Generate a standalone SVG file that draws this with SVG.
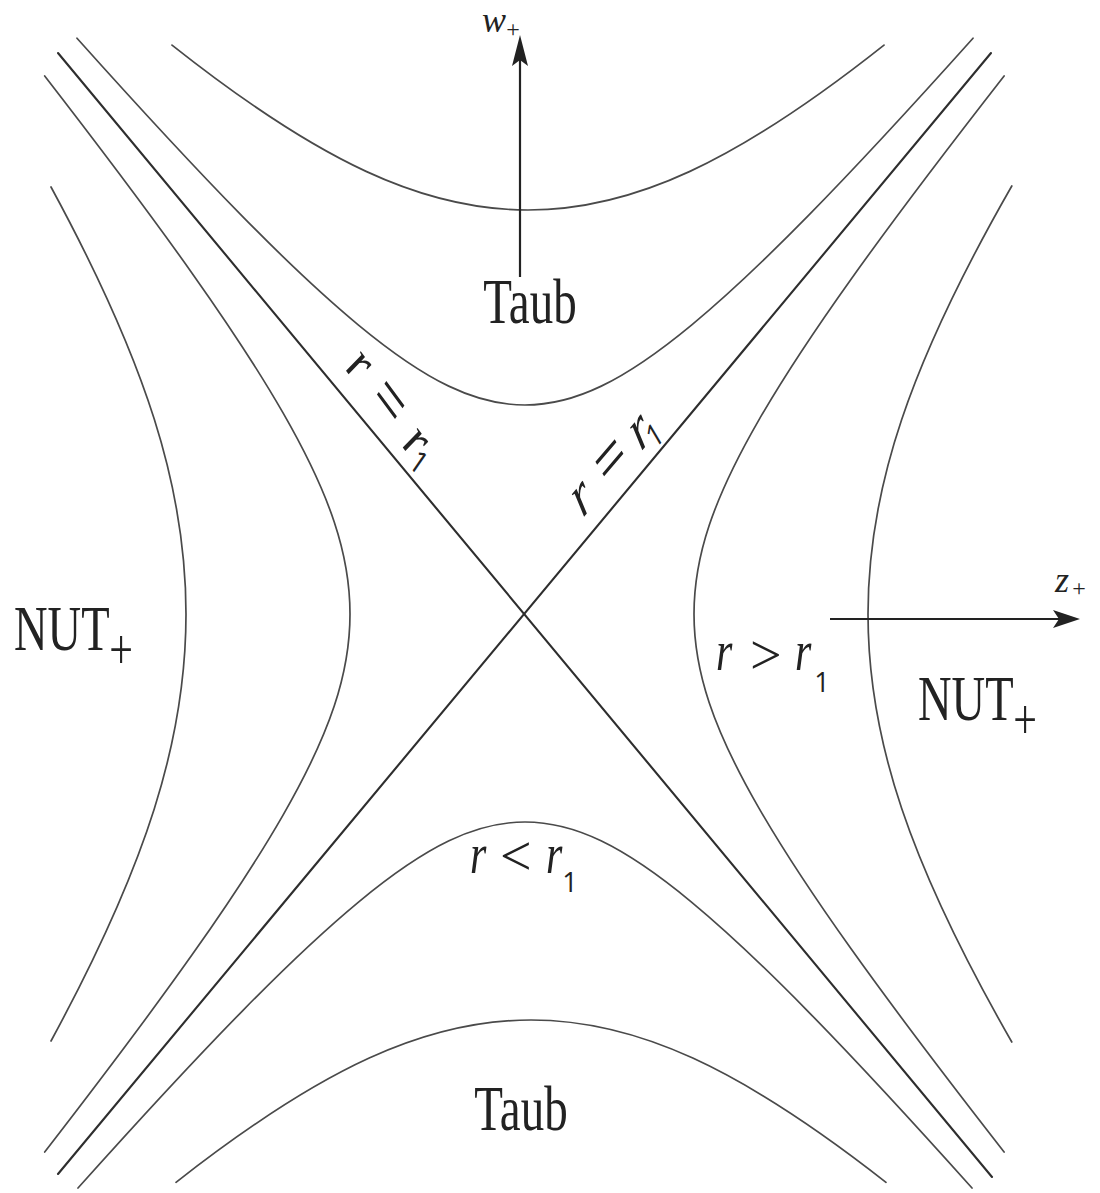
<svg xmlns="http://www.w3.org/2000/svg" width="1100" height="1193" viewBox="0 0 1100 1193">
<style>
.hyp{fill:none;stroke:#4a4a4a;stroke-width:1.7;stroke-linecap:round}
.asy{fill:none;stroke:#2e2e2e;stroke-width:2.1;stroke-linecap:round}
.shaft{fill:none;stroke:#222;stroke-width:2.2}
.head{fill:#222;stroke:none}
.lbl{font-family:"Liberation Serif","Times New Roman",serif;fill:#222}
.it{font-style:italic}
.sans{font-family:"Open Sans","Noto Sans",sans-serif;fill:#222}
</style>
<rect width="1100" height="1193" fill="#fff"/>
<g id="curves">
<path id="taub-outer" class="hyp" d="M172,45.1 C319.6,162 423.2,210 528,210 C632.8,210 736.4,162 884,45.1"/>
<path id="taub-inner" class="hyp" d="M77,38.2 C208.7,185.2 292.1,270.1 358.2,324.8 C426.6,381.4 475.6,405 525,405 C574.4,405 623.4,381.4 691.8,324.8 C757.9,270.1 841.3,185.2 973,38.2"/>
<path id="bottom-inner" class="hyp" d="M78,1188 C209.7,1041.1 292.8,956.4 358.8,901.8 C426.9,845.5 475.8,822 525,822 C574.2,822 623.1,845.5 691.2,901.8 C757.2,956.4 840.3,1041.1 972,1188"/>
<path id="bottom-outer" class="hyp" d="M176,1182.3 C322.6,1067.4 426.3,1020 531,1020 C635.7,1020 739.4,1067.4 886,1182.3"/>
<path id="left-inner" class="hyp" d="M44.7,76 C166.6,233.5 237.3,333.3 282.9,412.7 C330.3,495.2 350,554.4 350,614 C350,673.6 330.3,732.8 282.9,815.3 C237.3,894.7 166.6,994.5 44.7,1152"/>
<path id="left-outer" class="hyp" d="M51,187 C146.5,363.2 186,488 186,614 C186,740 146.5,864.8 51,1041"/>
<path id="right-inner" class="hyp" d="M1004.1,76 C876.7,239.4 804.7,340.4 758.8,420.1 C713,499.6 694,556.5 694,614 C694,671.5 713,728.4 758.8,807.9 C804.7,887.6 876.7,988.6 1004.1,1152"/>
<path id="right-outer" class="hyp" d="M1011.8,186 C909.7,364.2 868,488.4 868,614 C868,739.6 909.7,863.8 1011.8,1042"/>
<path id="horizon-a" class="asy" d="M58,53 L992,1177"/>
<path id="horizon-b" class="asy" d="M991,53 L58,1174"/>
</g>
<g id="connectors">
<g id="axis-w">
<line class="shaft" x1="520" y1="277" x2="520" y2="60"/>
<path class="head" d="M520,35 L528,66 L520,60 L512,66 Z"/>
</g>
<g id="axis-z">
<line class="shaft" x1="830" y1="619" x2="1062" y2="619" stroke-width="2.8"/>
<path class="head" d="M1080,619 L1053,610 L1059,619 L1053,628 Z"/>
</g>
</g>
<g id="label-w">
<text class="lbl it" x="482" y="32" font-size="36">w</text>
<text class="lbl" x="513" y="37" font-size="24" text-anchor="middle">+</text>
</g>
<g id="label-z">
<text class="lbl it" x="1055" y="592" font-size="36">z</text>
<text class="lbl" x="1079" y="596" font-size="24" text-anchor="middle">+</text>
</g>
<g id="taub-top">
<text class="lbl" transform="translate(530,323) scale(1,1.35)" font-size="47" text-anchor="middle">Taub</text>
</g>
<g id="taub-bottom">
<text class="lbl" transform="translate(521,1130) scale(1,1.35)" font-size="47" text-anchor="middle">Taub</text>
</g>
<g id="nut-left">
<text class="lbl" transform="translate(14,650) scale(1,1.38)" font-size="46.5">NUT</text>
<text class="lbl" transform="translate(121,668.5) scale(1,1.38)" font-size="42" text-anchor="middle">+</text>
</g>
<g id="nut-right">
<text class="lbl" transform="translate(918,720) scale(1,1.38)" font-size="46.5">NUT</text>
<text class="lbl" transform="translate(1025,739) scale(1,1.38)" font-size="42" text-anchor="middle">+</text>
</g>
<g id="label-gt">
<text class="lbl it" transform="translate(716,670) scale(1,1.35)" font-size="42">r</text>
<text class="lbl" x="750" y="673.5" font-size="56">&gt;</text>
<text class="lbl it" transform="translate(795,670) scale(1,1.35)" font-size="42">r</text>
<text class="sans" x="822" y="692" font-size="27" text-anchor="middle">1</text>
</g>
<g id="label-lt">
<text class="lbl it" transform="translate(470,873) scale(1,1.35)" font-size="42">r</text>
<text class="lbl" x="500" y="875" font-size="56">&lt;</text>
<text class="lbl it" transform="translate(546,873) scale(1,1.35)" font-size="42">r</text>
<text class="sans" x="570" y="892" font-size="27" text-anchor="middle">1</text>
</g>
<g id="label-eq-left" transform="translate(388,404) scale(1,1.4) rotate(44)">
<text class="lbl it" x="-40" y="12" font-size="44" text-anchor="middle">r</text>
<text class="lbl" x="0" y="14" font-size="54" text-anchor="middle">=</text>
<text class="lbl it" x="39" y="12" font-size="44" text-anchor="middle">r</text>
<text class="sans" x="51" y="17" font-size="24" text-anchor="middle">1</text>
</g>
<g id="label-eq-right" transform="translate(612,462) scale(1,1.4) rotate(-40)">
<text class="lbl it" x="-39.6" y="12" font-size="44" text-anchor="middle">r</text>
<text class="lbl" x="0" y="14" font-size="54" text-anchor="middle">=</text>
<text class="lbl it" x="35.5" y="13" font-size="44" text-anchor="middle">r</text>
<text class="sans" x="45" y="21" font-size="24" text-anchor="middle">1</text>
</g>
</svg>
